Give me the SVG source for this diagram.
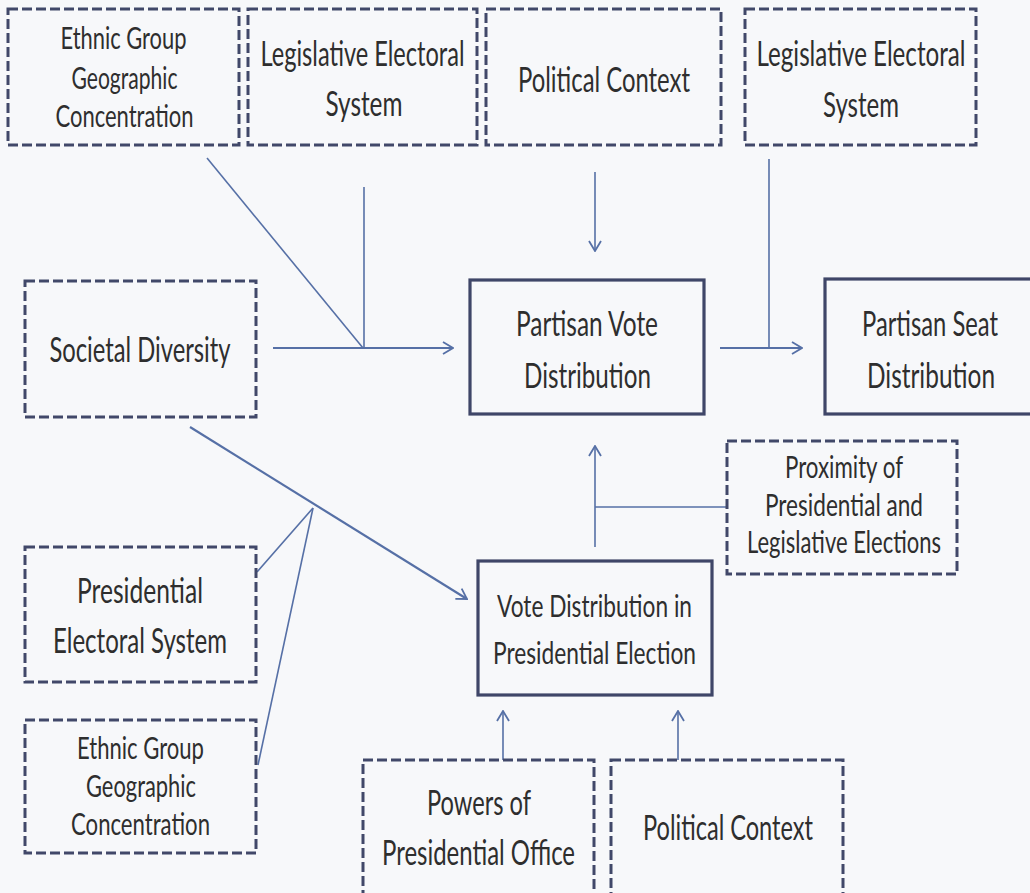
<svg xmlns="http://www.w3.org/2000/svg" width="1030" height="893" viewBox="0 0 1030 893">
<style>
.dbox{fill:none;stroke:#414869;stroke-width:3;stroke-dasharray:10 4}
.sbox{fill:none;stroke:#3f4668;stroke-width:3.2}
.t{font-family:Lato,"Liberation Sans",sans-serif;fill:#2e2e2e;text-anchor:middle;font-size:35px}
.s{font-size:31.5px}
.c{fill:none;stroke:#5670a6;stroke-width:1.6}
.c2{stroke-width:2.2}
</style>
<defs>
<marker id="arr" viewBox="0 0 12 14" refX="11" refY="7" markerWidth="12" markerHeight="14" markerUnits="userSpaceOnUse" orient="auto">
<path d="M1,1 L11,7 L1,13" fill="none" stroke="#5670a6" stroke-width="1.8"/>
</marker>
</defs>
<rect x="0" y="0" width="1030" height="893" fill="#f7f8fa"/>

<g id="connectors">
<line class="c c2" x1="273" y1="348" x2="453" y2="348" marker-end="url(#arr)"/>
<line class="c" x1="207" y1="158" x2="363" y2="348"/>
<line class="c" x1="364" y1="187" x2="364" y2="348"/>
<line class="c" x1="595" y1="172" x2="595" y2="251" marker-end="url(#arr)"/>
<line class="c" x1="769" y1="159" x2="769" y2="348"/>
<line class="c c2" x1="720" y1="348" x2="802" y2="348" marker-end="url(#arr)"/>
<line class="c" x1="595" y1="547" x2="595" y2="446" marker-end="url(#arr)"/>
<line class="c" x1="727" y1="507" x2="595" y2="507"/>
<line class="c c2" x1="190" y1="427" x2="467" y2="599" marker-end="url(#arr)"/>
<line class="c" x1="257" y1="572" x2="313" y2="508"/>
<line class="c" x1="258" y1="765" x2="313" y2="508"/>
<line class="c" x1="503" y1="760" x2="503" y2="711" marker-end="url(#arr)"/>
<line class="c" x1="678" y1="760" x2="678" y2="711" marker-end="url(#arr)"/>
</g>

<g id="ethnic-top">
<rect class="dbox" x="8" y="9" width="231" height="136"/>
<text class="t s" x="123.5" y="49" textLength="126" lengthAdjust="spacingAndGlyphs">Ethnic Group</text>
<text class="t s" x="124.5" y="89" textLength="106" lengthAdjust="spacingAndGlyphs">Geographic</text>
<text class="t s" x="124.5" y="127" textLength="138" lengthAdjust="spacingAndGlyphs">Concentration</text>
</g>

<g id="legislative-left">
<rect class="dbox" x="248" y="9" width="229" height="136"/>
<text class="t" x="362.5" y="66" textLength="204" lengthAdjust="spacingAndGlyphs">Legislative Electoral</text>
<text class="t" x="364" y="116" textLength="77" lengthAdjust="spacingAndGlyphs">System</text>
</g>

<g id="political-top">
<rect class="dbox" x="486" y="9" width="235" height="136"/>
<text class="t" x="604" y="92" textLength="172" lengthAdjust="spacingAndGlyphs">Political Context</text>
</g>

<g id="legislative-right">
<rect class="dbox" x="745" y="9" width="231" height="136"/>
<text class="t" x="861" y="66" textLength="209" lengthAdjust="spacingAndGlyphs">Legislative Electoral</text>
<text class="t" x="861" y="117" textLength="76" lengthAdjust="spacingAndGlyphs">System</text>
</g>

<g id="societal">
<rect class="dbox" x="25" y="281" width="231" height="136"/>
<text class="t" x="140" y="362" textLength="181" lengthAdjust="spacingAndGlyphs">Societal Diversity</text>
</g>

<g id="partisan-vote">
<rect class="sbox" x="470" y="280" width="234" height="134"/>
<text class="t" x="587" y="336" textLength="142" lengthAdjust="spacingAndGlyphs">Partisan Vote</text>
<text class="t" x="587.5" y="388" textLength="127" lengthAdjust="spacingAndGlyphs">Distribution</text>
</g>

<g id="partisan-seat">
<rect class="sbox" x="825" y="279" width="215" height="135"/>
<text class="t" x="930" y="336" textLength="136" lengthAdjust="spacingAndGlyphs">Partisan Seat</text>
<text class="t" x="931" y="388" textLength="128" lengthAdjust="spacingAndGlyphs">Distribution</text>
</g>

<g id="proximity">
<rect class="dbox" x="727" y="441" width="230" height="133"/>
<text class="t s" x="844" y="478" textLength="118" lengthAdjust="spacingAndGlyphs">Proximity of</text>
<text class="t s" x="844" y="516" textLength="158" lengthAdjust="spacingAndGlyphs">Presidential and</text>
<text class="t s" x="844" y="553" textLength="194" lengthAdjust="spacingAndGlyphs">Legislative Elections</text>
</g>

<g id="vote-presidential">
<rect class="sbox" x="478" y="561" width="234" height="134"/>
<text class="t s" x="594.5" y="617" textLength="195" lengthAdjust="spacingAndGlyphs">Vote Distribution in</text>
<text class="t s" x="594.5" y="664" textLength="203" lengthAdjust="spacingAndGlyphs">Presidential Election</text>
</g>

<g id="presidential-electoral">
<rect class="dbox" x="25" y="547" width="231" height="135"/>
<text class="t" x="140" y="603" textLength="126" lengthAdjust="spacingAndGlyphs">Presidential</text>
<text class="t" x="140" y="653" textLength="174" lengthAdjust="spacingAndGlyphs">Electoral System</text>
</g>

<g id="ethnic-bottom">
<rect class="dbox" x="25" y="720" width="231" height="133"/>
<text class="t s" x="140.5" y="759" textLength="127" lengthAdjust="spacingAndGlyphs">Ethnic Group</text>
<text class="t s" x="141" y="797" textLength="110" lengthAdjust="spacingAndGlyphs">Geographic</text>
<text class="t s" x="140.5" y="835" textLength="139" lengthAdjust="spacingAndGlyphs">Concentration</text>
</g>

<g id="powers">
<rect class="dbox" x="363" y="760" width="231" height="140"/>
<text class="t" x="479" y="815" textLength="104" lengthAdjust="spacingAndGlyphs">Powers of</text>
<text class="t" x="478.5" y="865" textLength="193" lengthAdjust="spacingAndGlyphs">Presidential Office</text>
</g>

<g id="political-bottom">
<rect class="dbox" x="611" y="760" width="232" height="140"/>
<text class="t" x="728" y="840" textLength="170" lengthAdjust="spacingAndGlyphs">Political Context</text>
</g>
</svg>
